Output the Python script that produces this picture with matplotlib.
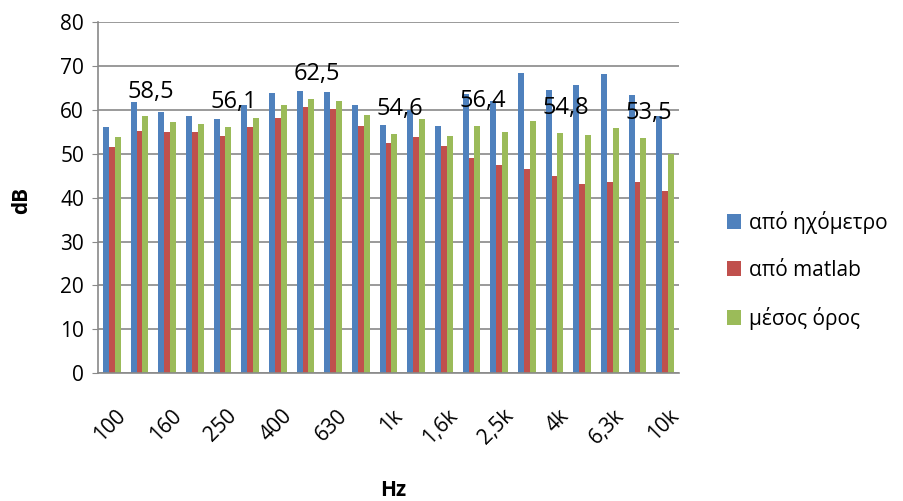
import matplotlib
matplotlib.use("Agg")
import matplotlib.pyplot as plt
from matplotlib.transforms import ScaledTranslation
import numpy as np

plt.rcParams['font.family'] = ['Open Sans', 'DejaVu Sans']

# 1/3-octave band centre frequencies
bands = ["100", "125", "160", "200", "250", "315", "400", "500", "630", "800",
         "1k", "1,25k", "1,6k", "2k", "2,5k", "3,15k", "4k", "5k", "6,3k", "8k", "10k"]

# Level per band (dB)
meter = [56.2, 61.7, 59.4, 58.6, 57.9, 61.0, 63.8, 64.3, 64.1, 61.0,
         56.6, 60.0, 56.3, 63.6, 62.0, 68.3, 64.5, 65.7, 68.1, 63.4, 58.5]
matlab = [51.5, 55.2, 55.0, 54.9, 54.1, 56.0, 58.2, 60.6, 60.1, 56.4,
          52.5, 53.9, 51.8, 49.1, 47.4, 46.5, 45.0, 43.0, 43.5, 43.5, 41.5]
mean = [53.8, 58.5, 57.2, 56.8, 56.1, 58.2, 61.0, 62.5, 62.0, 58.8,
        54.6, 57.9, 54.1, 56.4, 55.0, 57.5, 54.8, 54.3, 55.8, 53.5, 50.0]

series_names = ["από ηχόμετρο", "από matlab", "μέσος όρος"]
colors = ["#4F81BD", "#C0504D", "#9BBB59"]

# bands whose mean value is printed above the bar
labelled = [1, 4, 7, 10, 13, 16, 19]

fig = plt.figure(figsize=(9.04, 5.01), dpi=100)
ax = fig.add_axes([98 / 904, 1 - 373.3 / 501, (679 - 98) / 904, (373.3 - 22) / 501])

x = np.arange(len(bands))
w = 0.21
for i, (vals, c, name) in enumerate(zip([meter, matlab, mean], colors, series_names)):
    ax.bar(x + (i - 1) * w, vals, width=w, color=c, label=name, zorder=2)

for k in labelled:
    ax.text(x[k] + w + 0.2, mean[k] + 4.3, f"{mean[k]:.1f}".replace(".", ","),
            ha="center", va="baseline", fontsize=17, color="black", zorder=5)

ax.set_xlim(-0.5, len(bands) - 0.5)
ax.set_ylim(0, 80)
ax.set_yticks(np.arange(0, 81, 10))
ax.yaxis.grid(True, color="#898989", linewidth=1.2, zorder=0)
ax.set_axisbelow(True)

ax.set_xticks(x[::2])
ax.set_xticklabels(bands[::2], rotation=45, ha="right", rotation_mode="anchor",
                   fontsize=15)
ax.tick_params(axis="x", length=0, pad=23)
ax.tick_params(axis="y", length=4, color="#898989", labelsize=15, pad=6)
shift = ScaledTranslation(0.035, 0.0, fig.dpi_scale_trans)
for lbl in ax.get_xticklabels():
    lbl.set_transform(lbl.get_transform() + shift)

for side in ["top", "right"]:
    ax.spines[side].set_visible(False)
for side in ["left", "bottom"]:
    ax.spines[side].set_color("#898989")
    ax.spines[side].set_linewidth(1.2)

fig.text(22 / 904, 1 - 200 / 501, "dB", rotation=90, ha="center", va="center",
         fontsize=15, fontweight="bold")
fig.text(393 / 904, 1 - 490 / 501, "Hz", ha="center", va="center",
         fontsize=15, fontweight="bold")

leg = fig.legend(loc="upper left", bbox_to_anchor=(708 / 904, 1 - 192 / 501),
                 frameon=False, fontsize=15, handlelength=0.7, handleheight=0.7,
                 handletextpad=0.35, labelspacing=1.25)

fig.savefig("out.png", dpi=100)
